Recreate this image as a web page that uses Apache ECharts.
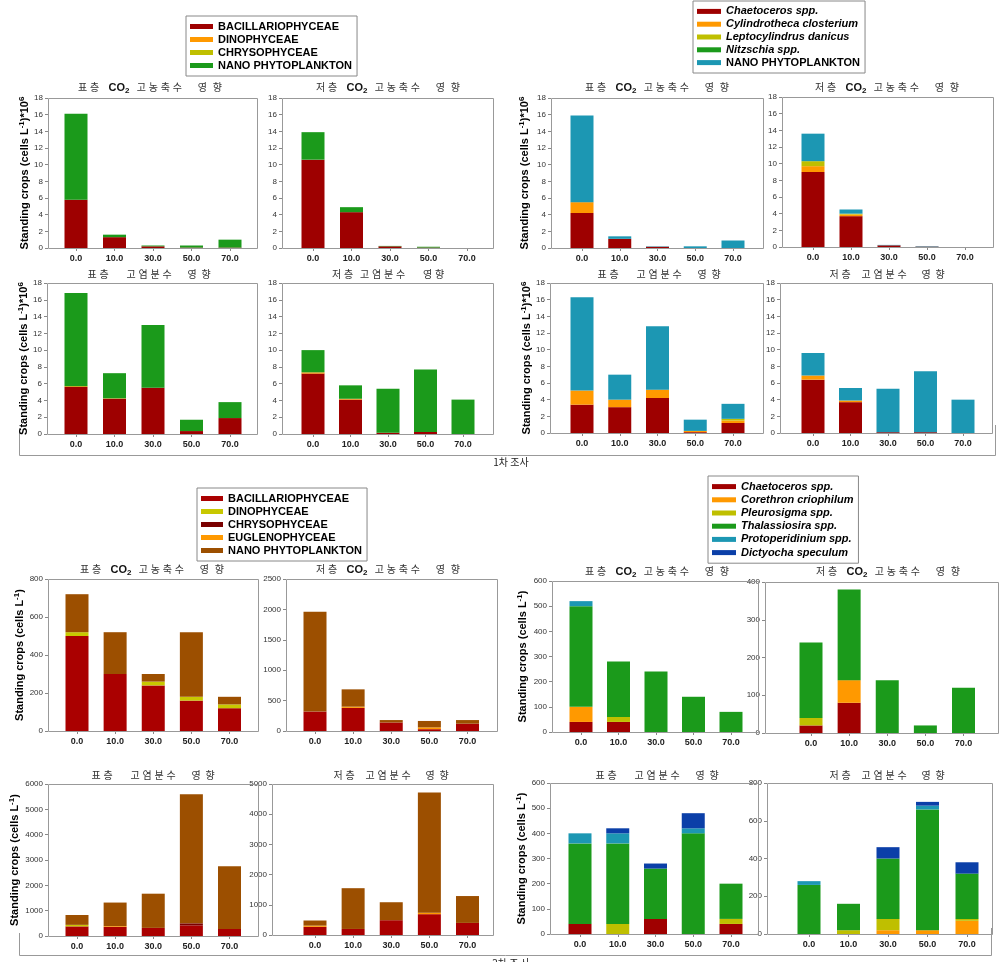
<!DOCTYPE html>
<html><head><meta charset="utf-8">
<script src="https://cdn.jsdelivr.net/npm/echarts@6/dist/echarts.min.js"></script>
<style>html,body{margin:0;padding:0;background:#fff}#c{width:999px;height:962px}</style>
</head><body><div id="c"></div>
<script>
const categories = ['0.0', '10.0', '30.0', '50.0', '70.0'];

// ---- 1차 조사 : class composition (cells L-1 x10^6)
const s1SurfCO2Bacillario = [5.8, 1.3, 0.2, 0.05, 0.05];
const s1SurfCO2Dino       = [0, 0, 0, 0, 0];
const s1SurfCO2Chryso     = [0, 0, 0, 0, 0];
const s1SurfCO2Nano       = [10.3, 0.3, 0.1, 0.25, 0.95];

const s1BotCO2Bacillario = [10.6, 4.3, 0.2, 0.05, 0];
const s1BotCO2Dino       = [0, 0, 0, 0, 0];
const s1BotCO2Chryso     = [0, 0, 0, 0, 0];
const s1BotCO2Nano       = [3.3, 0.6, 0.05, 0.1, 0];

const s1SurfSalBacillario = [5.6, 4.2, 5.5, 0.35, 1.9];
const s1SurfSalDino       = [0.1, 0.05, 0, 0, 0];
const s1SurfSalChryso     = [0, 0, 0, 0, 0];
const s1SurfSalNano       = [11.1, 3.0, 7.5, 1.35, 1.9];

const s1BotSalBacillario = [7.2, 4.1, 0.15, 0.25, 0];
const s1BotSalDino       = [0.15, 0.1, 0, 0, 0];
const s1BotSalChryso     = [0, 0, 0, 0, 0];
const s1BotSalNano       = [2.65, 1.6, 5.25, 7.45, 4.1];

// ---- 1차 조사 : species composition (cells L-1 x10^6)
const s1SurfCO2Chaeto = [4.2, 1.1, 0.15, 0, 0];
const s1SurfCO2Cylin  = [1.3, 0, 0, 0, 0];
const s1SurfCO2Lepto  = [0, 0, 0, 0, 0];
const s1SurfCO2Nitz   = [0, 0, 0, 0, 0];
const s1SurfCO2NanoS  = [10.4, 0.3, 0.05, 0.2, 0.9];

const s1BotCO2Chaeto = [9.0, 3.7, 0.2, 0.05, 0];
const s1BotCO2Cylin  = [0.7, 0.2, 0, 0, 0];
const s1BotCO2Lepto  = [0.6, 0.1, 0, 0, 0];
const s1BotCO2Nitz   = [0, 0, 0, 0, 0];
const s1BotCO2NanoS  = [3.3, 0.5, 0.05, 0.05, 0];

const s1SurfSalChaeto = [3.4, 3.1, 4.2, 0.1, 1.2];
const s1SurfSalCylin  = [1.7, 0.9, 1.0, 0.15, 0.3];
const s1SurfSalLepto  = [0, 0, 0, 0, 0.2];
const s1SurfSalNitz   = [0, 0, 0, 0, 0];
const s1SurfSalNanoS  = [11.2, 3.0, 7.6, 1.35, 1.8];

const s1BotSalChaeto = [6.4, 3.7, 0.1, 0.1, 0];
const s1BotSalCylin  = [0.5, 0.2, 0, 0, 0];
const s1BotSalLepto  = [0, 0, 0, 0, 0];
const s1BotSalNitz   = [0, 0, 0, 0, 0];
const s1BotSalNanoS  = [2.7, 1.5, 5.2, 7.3, 4.0];

// ---- 2차 조사 : class composition (cells L-1)
const s2SurfCO2Bacillario = [500, 300, 240, 160, 120];
const s2SurfCO2Dino       = [20, 0, 20, 20, 20];
const s2SurfCO2Chryso     = [0, 0, 0, 0, 0];
const s2SurfCO2Euglena    = [0, 0, 0, 0, 0];
const s2SurfCO2Nano       = [200, 220, 40, 340, 40];

const s2BotCO2Bacillario = [320, 380, 140, 30, 120];
const s2BotCO2Dino       = [0, 0, 0, 0, 0];
const s2BotCO2Chryso     = [0, 0, 0, 0, 0];
const s2BotCO2Euglena    = [0, 20, 0, 30, 0];
const s2BotCO2Nano       = [1640, 285, 40, 105, 60];

const s2SurfSalBacillario = [380, 360, 320, 420, 280];
const s2SurfSalDino       = [60, 0, 0, 0, 0];
const s2SurfSalChryso     = [0, 0, 0, 80, 0];
const s2SurfSalEuglena    = [0, 30, 0, 0, 0];
const s2SurfSalNano       = [390, 930, 1350, 5100, 2470];

const s2BotSalBacillario = [270, 200, 490, 690, 400];
const s2BotSalDino       = [0, 0, 0, 0, 0];
const s2BotSalChryso     = [0, 0, 0, 0, 0];
const s2BotSalEuglena    = [40, 0, 0, 50, 0];
const s2BotSalNano       = [170, 1350, 595, 3980, 890];

// ---- 2차 조사 : species composition (cells L-1)
const s2SurfCO2Chaeto = [40, 40, 0, 0, 0];
const s2SurfCO2Coreth = [60, 0, 0, 0, 0];
const s2SurfCO2Pleuro = [0, 20, 0, 0, 0];
const s2SurfCO2Thalas = [400, 220, 240, 140, 80];
const s2SurfCO2Protop = [20, 0, 0, 0, 0];
const s2SurfCO2Dictyo = [0, 0, 0, 0, 0];

const s2BotCO2Chaeto = [20, 80, 0, 0, 0];
const s2BotCO2Coreth = [0, 60, 0, 0, 0];
const s2BotCO2Pleuro = [20, 0, 0, 0, 0];
const s2BotCO2Thalas = [200, 240, 140, 20, 120];
const s2BotCO2Protop = [0, 0, 0, 0, 0];
const s2BotCO2Dictyo = [0, 0, 0, 0, 0];

const s2SurfSalChaeto = [40, 0, 60, 0, 40];
const s2SurfSalCoreth = [0, 0, 0, 0, 0];
const s2SurfSalPleuro = [0, 40, 0, 0, 20];
const s2SurfSalThalas = [320, 320, 200, 400, 140];
const s2SurfSalProtop = [40, 40, 0, 20, 0];
const s2SurfSalDictyo = [0, 20, 20, 60, 0];

const s2BotSalChaeto = [0, 0, 0, 0, 0];
const s2BotSalCoreth = [0, 0, 20, 20, 70];
const s2BotSalPleuro = [0, 20, 60, 0, 10];
const s2BotSalThalas = [260, 140, 320, 640, 240];
const s2BotSalProtop = [20, 0, 0, 20, 0];
const s2BotSalDictyo = [0, 0, 60, 20, 60];

// ---- legends
const legendNames1 = ['BACILLARIOPHYCEAE', 'DINOPHYCEAE', 'CHRYSOPHYCEAE', 'NANO PHYTOPLANKTON'];
const legendNames2 = ['Chaetoceros spp.', 'Cylindrotheca closterium', 'Leptocylindrus danicus', 'Nitzschia spp.', 'NANO PHYTOPLANKTON'];
const legendNames3 = ['BACILLARIOPHYCEAE', 'DINOPHYCEAE', 'CHRYSOPHYCEAE', 'EUGLENOPHYCEAE', 'NANO PHYTOPLANKTON'];
const legendNames4 = ['Chaetoceros spp.', 'Corethron criophilum', 'Pleurosigma spp.', 'Thalassiosira spp.', 'Protoperidinium spp.', 'Dictyocha speculum'];

const yTitleA = 'Standing crops (cells L{u|-1})*10{u|6}';
const yTitleB = 'Standing crops (cells L{u|-1})';

// ---------- styling / layout ----------
const legendCfg = [
  {names: legendNames1, colors: ['#9E0000', '#FF9900', '#BFBF00', '#1B9A1B'], italic: [0,0,0,0], left: 186, top: 16, iw: 23, lh: 13},
  {names: legendNames2, colors: ['#9E0000', '#FF9900', '#BFBF00', '#1B9A1B', '#1C97B3'], italic: [1,1,1,1,0], left: 693, top: 1, iw: 24, lh: 12.8},
  {names: legendNames3, colors: ['#AA0000', '#C8C800', '#7A0000', '#FF9900', '#9C4F00'], italic: [0,0,0,0,0], left: 197, top: 488, iw: 22, lh: 13},
  {names: legendNames4, colors: ['#A00000', '#FF9900', '#BFBF00', '#1B9A1B', '#1C97B3', '#0B3FA8'], italic: [1,1,1,1,1,1], left: 708, top: 476, iw: 24, lh: 13.2}
];

const tCO2s = ['표','층',8,'CO2',6,'고','농','축','수',13,'영',3,'향'];
const tCO2b = ['저','층',8,'CO2',6,'고','농','축','수',13,'영',3,'향'];
const tSalS = ['표','층',15,'고','염','분','수',13,'영',2,'향'];
const tSalBtight = ['저','층',4,'고','염','분','수',15,'영','향'];
const tSalB = ['저','층',8,'고','염','분','수',12,'영',2,'향'];

const panels = [
  {fr:[48,257,98,248], c:[76,230], max:18, iv:2, lg:0, t:tCO2s, tx:150, ty:88, yn:yTitleA, ng:14,
   d:[s1SurfCO2Bacillario, s1SurfCO2Dino, s1SurfCO2Chryso, s1SurfCO2Nano]},
  {fr:[282,493,98,248], c:[313,467], max:18, iv:2, lg:0, t:tCO2b, tx:388, ty:88,
   d:[s1BotCO2Bacillario, s1BotCO2Dino, s1BotCO2Chryso, s1BotCO2Nano]},
  {fr:[47,257,283,434], c:[76,230], max:18, iv:2, lg:0, t:tSalS, tx:149, ty:277, yn:yTitleA, ng:13,
   d:[s1SurfSalBacillario, s1SurfSalDino, s1SurfSalChryso, s1SurfSalNano]},
  {fr:[282,493,283,434], c:[313,463], max:18, iv:2, lg:0, t:tSalBtight, tx:388, ty:277,
   d:[s1BotSalBacillario, s1BotSalDino, s1BotSalChryso, s1BotSalNano]},
  {fr:[551,763,98,248], c:[582,733], max:18, iv:2, lg:1, t:tCO2s, tx:657, ty:88, yn:yTitleA, ng:19,
   d:[s1SurfCO2Chaeto, s1SurfCO2Cylin, s1SurfCO2Lepto, s1SurfCO2Nitz, s1SurfCO2NanoS]},
  {fr:[782,993,97,247], c:[813,965], max:18, iv:2, lg:1, t:tCO2b, tx:887, ty:88,
   d:[s1BotCO2Chaeto, s1BotCO2Cylin, s1BotCO2Lepto, s1BotCO2Nitz, s1BotCO2NanoS]},
  {fr:[550,763,283,433], c:[582,733], max:18, iv:2, lg:1, t:tSalS, tx:659, ty:277, yn:yTitleA, ng:9,
   d:[s1SurfSalChaeto, s1SurfSalCylin, s1SurfSalLepto, s1SurfSalNitz, s1SurfSalNanoS]},
  {fr:[780,992,283,433], c:[813,963], max:18, iv:2, lg:1, t:tSalB, tx:887, ty:277,
   d:[s1BotSalChaeto, s1BotSalCylin, s1BotSalLepto, s1BotSalNitz, s1BotSalNanoS]},
  {fr:[48,258,579,731], c:[77,229.5], max:800, iv:200, lg:2, t:tCO2s, tx:152, ty:570, yn:yTitleB, ng:19,
   d:[s2SurfCO2Bacillario, s2SurfCO2Dino, s2SurfCO2Chryso, s2SurfCO2Euglena, s2SurfCO2Nano]},
  {fr:[286,497,579,731], c:[315,467.5], max:2500, iv:500, lg:2, t:tCO2b, tx:388, ty:570,
   d:[s2BotCO2Bacillario, s2BotCO2Dino, s2BotCO2Chryso, s2BotCO2Euglena, s2BotCO2Nano]},
  {fr:[552,758,581,732], c:[581,731], max:600, iv:100, lg:3, t:tCO2s, tx:657, ty:572, yn:yTitleB, ng:22,
   d:[s2SurfCO2Chaeto, s2SurfCO2Coreth, s2SurfCO2Pleuro, s2SurfCO2Thalas, s2SurfCO2Protop, s2SurfCO2Dictyo]},
  {fr:[765,998,582,733], c:[811,963.5], max:400, iv:100, lg:3, t:tCO2b, tx:888, ty:572,
   d:[s2BotCO2Chaeto, s2BotCO2Coreth, s2BotCO2Pleuro, s2BotCO2Thalas, s2BotCO2Protop, s2BotCO2Dictyo]},
  {fr:[48,258,784,936], c:[77,229.5], max:6000, iv:1000, lg:2, t:tSalS, tx:153, ty:778, yn:yTitleB, ng:26,
   d:[s2SurfSalBacillario, s2SurfSalDino, s2SurfSalChryso, s2SurfSalEuglena, s2SurfSalNano]},
  {fr:[272,493,784,935], c:[315,467.5], max:5000, iv:1000, lg:2, t:tSalB, tx:391, ty:778,
   d:[s2BotSalBacillario, s2BotSalDino, s2BotSalChryso, s2BotSalEuglena, s2BotSalNano]},
  {fr:[550,758,783,934], c:[580,731], max:600, iv:100, lg:3, t:tSalS, tx:657, ty:778, yn:yTitleB, ng:20,
   d:[s2SurfSalChaeto, s2SurfSalCoreth, s2SurfSalPleuro, s2SurfSalThalas, s2SurfSalProtop, s2SurfSalDictyo]},
  {fr:[767,992,783,934], c:[809,967], max:800, iv:200, lg:3, t:tSalB, tx:887, ty:778,
   d:[s2BotSalChaeto, s2BotSalCoreth, s2BotSalPleuro, s2BotSalThalas, s2BotSalProtop, s2BotSalDictyo]}
];

const LATIN = "'Liberation Sans', Arial, sans-serif";
const KR = "'Noto Sans CJK KR', sans-serif";

function buildTitle(tokens) {
  const rich = {
    k: {width: 12, fontSize: 10, fontFamily: KR, color: '#333'},
    c: {fontSize: 11, fontWeight: 'bold', fontFamily: LATIN, color: '#111'},
    s: {fontSize: 8, fontWeight: 'bold', fontFamily: LATIN, color: '#111', padding: [7, 0, 0, 0]}
  };
  let txt = '';
  tokens.forEach(tk => {
    if (typeof tk === 'number') {
      rich['g' + tk] = {width: tk, fontSize: 10};
      txt += '{g' + tk + '|\u00a0}';
    } else if (tk === 'CO2') {
      txt += '{c|CO}{s|2}';
    } else {
      txt += '{k|' + tk + '}';
    }
  });
  return {text: txt, rich};
}

const grids = [], xAxes = [], yAxes = [], series = [], titles = [], graphics = [];
panels.forEach((p, i) => {
  const step = (p.c[1] - p.c[0]) / 4;
  const gl = p.c[0] - step / 2;
  grids.push({left: gl, top: p.fr[2], width: step * 5, height: p.fr[3] - p.fr[2], containLabel: false});
  xAxes.push({
    type: 'category', gridIndex: i, data: categories,
    axisLine: {show: false},
    axisTick: {show: true, alignWithLabel: true, length: 3, lineStyle: {color: '#888'}},
    axisLabel: {fontSize: 9, fontWeight: 'bold', color: '#222', margin: 6, fontFamily: LATIN}
  });
  const y = {
    type: 'value', gridIndex: i, min: 0, max: p.max, interval: p.iv,
    offset: gl - p.fr[0],
    splitLine: {show: false},
    axisLine: {show: false},
    axisTick: {show: true, length: 3, lineStyle: {color: '#888'}},
    axisLabel: {fontSize: 8, color: '#333', margin: 5, fontFamily: LATIN, formatter: v => String(v)}
  };
  if (p.yn) {
    y.name = p.yn;
    y.nameLocation = 'middle';
    y.nameRotate = 90;
    y.nameGap = p.ng;
    y.nameTextStyle = {fontSize: 11, fontWeight: 'bold', color: '#000', fontFamily: LATIN,
      rich: {u: {fontSize: 8, fontWeight: 'bold', color: '#000', fontFamily: LATIN, padding: [0, 0, 6, 0]}}};
  }
  yAxes.push(y);
  const lg = legendCfg[p.lg];
  lg.names.forEach((nm, k) => {
    series.push({
      type: 'bar', name: nm + '#' + p.lg, stack: 'p' + i,
      xAxisIndex: i, yAxisIndex: i, barWidth: 23,
      itemStyle: {color: lg.colors[k]},
      data: p.d[k]
    });
  });
  const tt = buildTitle(p.t);
  titles.push({text: tt.text, left: p.tx, top: p.ty - 8, textAlign: 'center', padding: 0,
    textStyle: {fontSize: 10, fontWeight: 'normal', color: '#333', rich: tt.rich}});
  graphics.push({type: 'rect', silent: true, z: 10,
    shape: {x: p.fr[0] + 0.5, y: p.fr[2] + 0.5, width: p.fr[1] - p.fr[0], height: p.fr[3] - p.fr[2]},
    style: {fill: 'none', stroke: '#999', lineWidth: 1}});
});

const legends = legendCfg.map((lg, g) => ({
  orient: 'vertical', left: lg.left, top: lg.top,
  padding: [4, 5, 4, 4], itemGap: 0, itemWidth: lg.iw, itemHeight: 5, icon: 'rect',
  borderColor: '#888', borderWidth: 1, selectedMode: false,
  formatter: n => n.split('#')[0],
  textStyle: {fontSize: 11, fontWeight: 'bold', color: '#000', fontFamily: LATIN, lineHeight: lg.lh},
  data: lg.names.map((nm, k) => ({name: nm + '#' + g, textStyle: {fontStyle: lg.italic[k] ? 'italic' : 'normal'}}))
}));

graphics.push(
  {type: 'polyline', silent: true, shape: {points: [[19.5, 428], [19.5, 455.5], [995.5, 455.5], [995.5, 425]]}, style: {fill: 'none', stroke: '#999', lineWidth: 1}},
  {type: 'polyline', silent: true, shape: {points: [[19.5, 933], [19.5, 955.5], [991.5, 955.5], [991.5, 928]]}, style: {fill: 'none', stroke: '#999', lineWidth: 1}},
  {type: 'text', x: 511, y: 462, style: {text: '1차 조사', fill: '#222', font: '10px ' + KR, align: 'center', verticalAlign: 'middle', textAlign: 'center', textVerticalAlign: 'middle'}},
  {type: 'text', x: 511, y: 963, style: {text: '2차 조 사', fill: '#222', font: '10px ' + KR, align: 'center', verticalAlign: 'middle', textAlign: 'center', textVerticalAlign: 'middle'}}
);

const chart = echarts.init(document.getElementById('c'), null, {renderer: 'canvas'});
chart.setOption({
  animation: false,
  backgroundColor: '#fff',
  textStyle: {fontFamily: LATIN},
  title: titles,
  legend: legends,
  grid: grids,
  xAxis: xAxes,
  yAxis: yAxes,
  series: series,
  graphic: graphics
});
</script>
</body></html>
